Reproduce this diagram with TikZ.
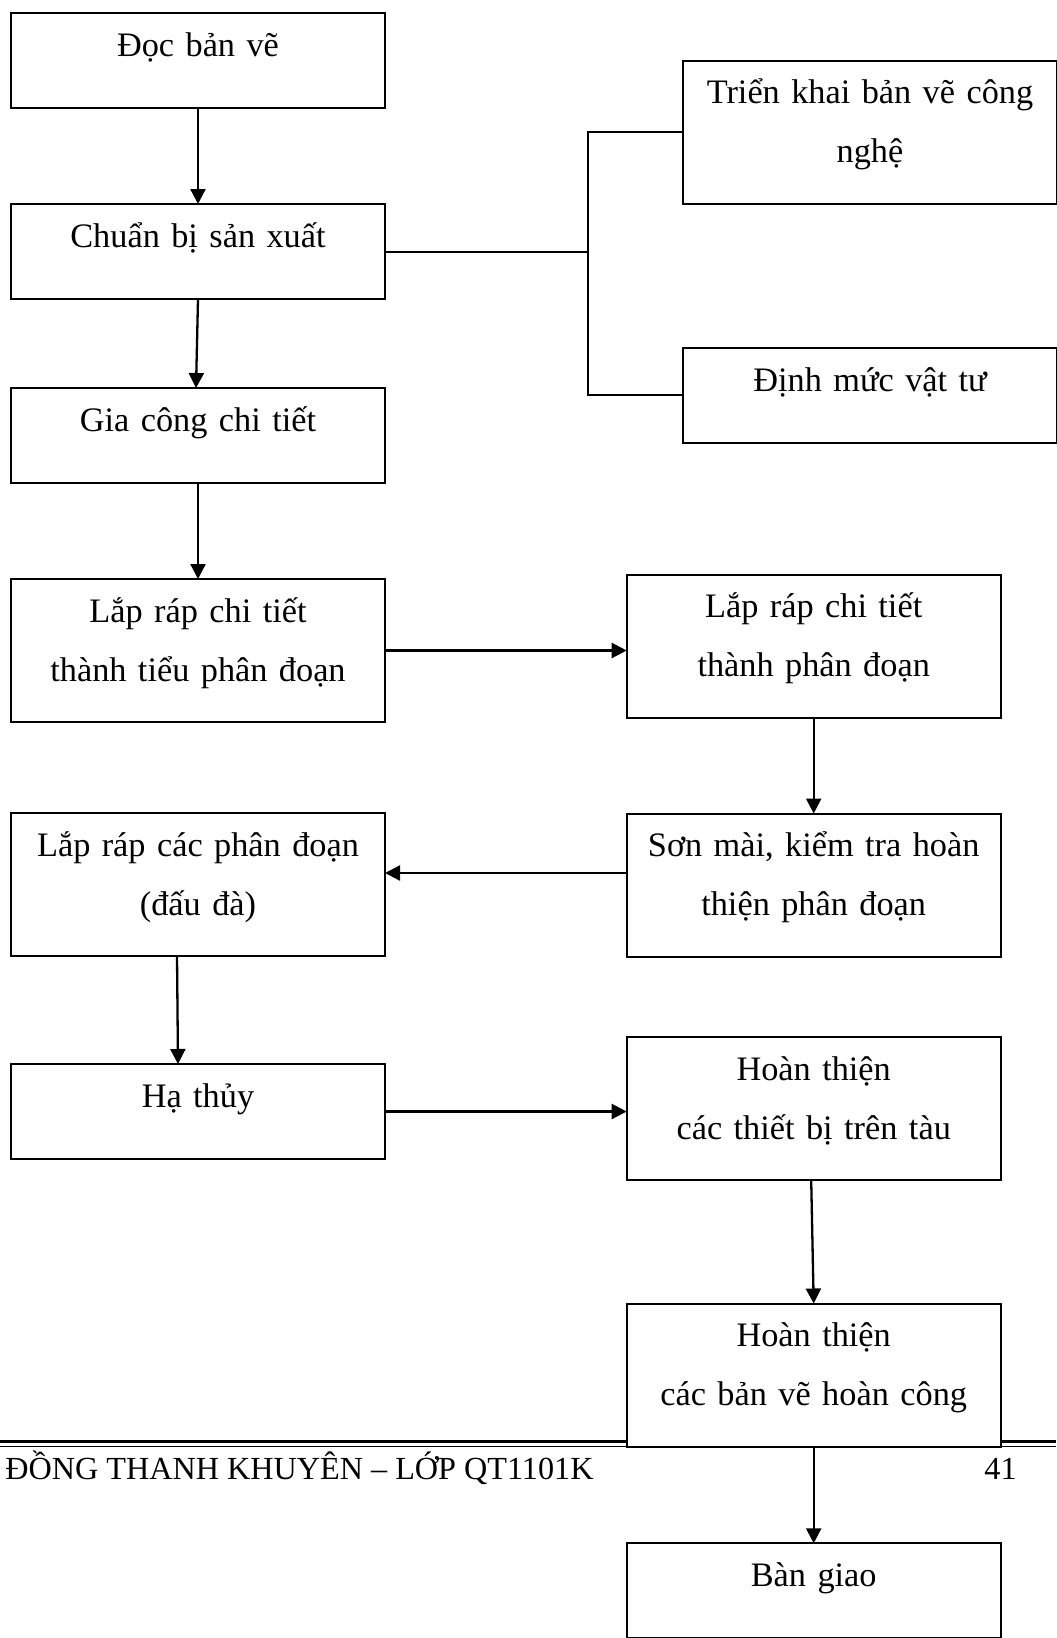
\documentclass[tikz,border=0pt]{standalone}
\usepackage{fontspec}
\setmainfont{Liberation Serif}
\usetikzlibrary{arrows.meta,positioning,calc}
\tikzset{stepbox/.style={draw,line width=1pt,fill=white,outer sep=0pt,
 text width=187pt,align=center,inner xsep=0pt,inner ysep=0pt,
 text height=21.5pt,text depth=26pt,font=\fontsize{17.15}{29.5}\selectfont},
 tallbox/.style={stepbox,text depth=50pt},
 flowarr/.style={-{Triangle[length=7.5pt,width=7.5pt]},line width=1.15pt},
 forkline/.style={line width=1pt},
 foottext/.style={inner sep=0pt,font=\fontsize{16.1}{19}\selectfont}}

\begin{document}
\begin{tikzpicture}[x=0.5pt,y=-0.5pt,node distance=48pt]
\useasboundingbox[fill=white] (0,0) rectangle (1056,1638);
% footer rule, under the boxes
\draw[line width=1.65pt] (0,1441.7) -- (1056,1441.7);
\draw[line width=0.65pt] (0,1446.7) -- (1056,1446.7);
\node[foottext,anchor=base west] (author) at (5,1479) {ĐỒNG THANH KHUYÊN – LỚP QT1101K};
\node[foottext,anchor=base east] (page) at (1017,1479) {41};
% left column
\node[stepbox,anchor=north west] (doc) at (11,13) {Đọc bản vẽ};
\node[stepbox,below=48pt of doc] (prep) {Chuẩn bị sản xuất};
\node[stepbox,below=44.5pt of prep] (mach) {Gia công chi tiết};
\node[tallbox,below=48pt of mach] (sub) {Lắp ráp chi tiết\\thành tiểu phân đoạn};
\node[tallbox,below=45.5pt of sub] (erect) {Lắp ráp các phân đoạn\\(đấu đà)};
\node[stepbox,below=54pt of erect] (launch) {Hạ thủy};
% preparation branch
\node[tallbox,right=149pt of prep,yshift=59.65pt] (tech) {Triển khai bản vẽ công\\nghệ};
\node[stepbox,below=72pt of tech,text height=22pt,text depth=25.5pt] (norm) {Định mức vật tư};
% right column
\node[tallbox,right=120.85pt of sub,yshift=2.25pt] (block) {Lắp ráp chi tiết\\thành phân đoạn};
\node[tallbox,below=48pt of block] (paint) {Sơn mài, kiểm tra hoàn\\thiện phân đoạn};
\node[tallbox,below=40.4pt of paint] (outfit) {Hoàn thiện\\các thiết bị trên tàu};
\node[tallbox,below=61.6pt of outfit] (docs) {Hoàn thiện\\các bản vẽ hoàn công};
\node[stepbox,below=48.4pt of docs] (hand) {Bàn giao};
% arrows
\draw[flowarr] (doc) -- (prep);
\draw[flowarr] (prep.south) -- ($(mach.north)+(-2,0)$);
\draw[flowarr] (mach) -- (sub);
\draw[flowarr] (sub.east) -- (sub.east -| block.west);
\draw[flowarr] (block) -- (paint);
\coordinate (pw) at ($(paint.west)+(0,-12)$);
\draw[flowarr] (pw) -- (pw -| erect.east);
\draw[flowarr] ($(erect.south)+(-21,0)$) -- ($(launch.north)+(-20,0)$);
\draw[flowarr] (launch.east) -- (launch.east -| outfit.west);
\draw[flowarr] ($(outfit.south)+(-2.5,0)$) -- (docs.north);
\draw[flowarr] (docs) -- (hand);
% bracket to the two preparation boxes
\coordinate (fork) at ($(prep.east)+(203,0)$);
\draw[forkline] (prep.east) -- (fork);
\draw[forkline] (tech.west) -| (fork) |- (norm.west);
\end{tikzpicture}
\end{document}
